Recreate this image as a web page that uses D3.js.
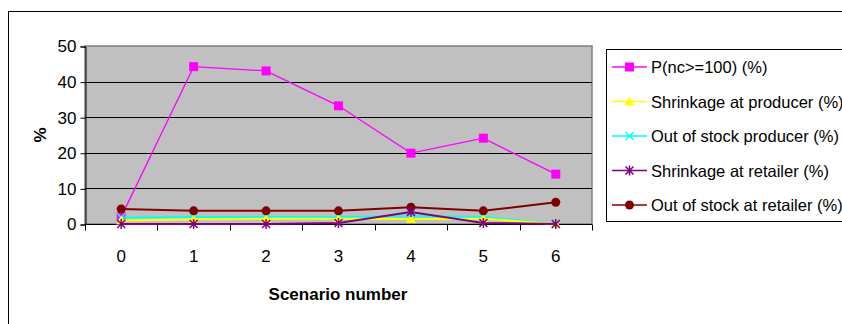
<!DOCTYPE html>
<html>
<head>
<meta charset="utf-8">
<script src="https://cdn.jsdelivr.net/npm/d3@7"></script>
<style>
  html, body { margin: 0; padding: 0; background: #fff; }
  svg { display: block; font-family: "Liberation Sans", Arial, sans-serif; }
</style>
</head>
<body>
<svg id="chart" width="842" height="324"></svg>
<script>
// Scenario numbers along the x axis
const scenarios = [0, 1, 2, 3, 4, 5, 6];
const yTicks = [0, 10, 20, 30, 40, 50];

// Series values (%) per scenario
const pNc100          = [2.0, 44.2, 43.0, 33.2, 19.9, 24.1, 14.0];
const shrinkProducer  = [1.0, 1.3, 1.5, 1.5, 1.4, 1.5, 0.0];
const outStockProducer = [1.8, 2.0, 2.0, 2.0, 2.2, 2.0, 0.0];
const shrinkRetailer  = [0.0, 0.0, 0.0, 0.3, 3.4, 0.3, 0.0];
const outStockRetailer = [4.2, 3.7, 3.7, 3.7, 4.7, 3.7, 6.1];

const seriesNames = [
  "P(nc>=100) (%)",
  "Shrinkage at producer (%)",
  "Out of stock producer (%)",
  "Shrinkage at retailer (%)",
  "Out of stock at retailer (%)"
];
const seriesValues = [pNc100, shrinkProducer, outStockProducer, shrinkRetailer, outStockRetailer];
const seriesColors = ["#FF00FF", "#FFFF00", "#00FFFF", "#800080", "#800000"];
const seriesMarkers = ["square", "triangle", "cross", "star", "circle"];

// Draw order: later series on top
const drawOrder = [0, 2, 1, 4, 3];

const FS = 17;
const LEGEND_FS = 16.5;
const svg = d3.select("#chart");

// Outer chart frame
svg.append("rect").attr("x", 8.5).attr("y", 11.5).attr("width", 840).attr("height", 320)
  .attr("fill", "#fff").attr("stroke", "#000").attr("stroke-width", 1);

const plot = { left: 85, right: 592, top: 46, bottom: 224 };

const x = d3.scaleBand().domain(scenarios).range([plot.left, plot.right]).padding(0);
const y = d3.scaleLinear().domain([0, 50]).range([plot.bottom, plot.top]);
const cx = d => x(d) + x.bandwidth() / 2;

// Plot background
svg.append("rect")
  .attr("x", plot.left).attr("y", plot.top)
  .attr("width", plot.right - plot.left).attr("height", plot.bottom - plot.top)
  .attr("fill", "#C0C0C0").attr("stroke", "#808080").attr("stroke-width", 1.5);

// Horizontal gridlines
svg.append("g").selectAll("line").data(yTicks.filter(t => t > 0 && t < 50)).join("line")
  .attr("x1", plot.left).attr("x2", plot.right)
  .attr("y1", d => Math.round(y(d)) + 0.5).attr("y2", d => Math.round(y(d)) + 0.5)
  .attr("stroke", "#000").attr("stroke-width", 1);

// Y axis
const yAxis = svg.append("g").attr("transform", `translate(${plot.left + 0.5},0.5)`)
  .call(d3.axisLeft(y).tickValues(yTicks).tickSize(5).tickPadding(4));
yAxis.select(".domain").attr("stroke", "#000");
yAxis.selectAll(".tick line").attr("stroke", "#000");
yAxis.selectAll("text").attr("font-size", FS).attr("fill", "#000")
  .attr("font-family", "Liberation Sans, Arial, sans-serif");

// X axis: ticks at category boundaries, labels at centers
const xg = svg.append("g").attr("transform", `translate(0,${plot.bottom + 0.5})`);
xg.append("line").attr("x1", plot.left).attr("x2", plot.right).attr("stroke", "#000");
const boundaries = scenarios.map(s => x(s)).concat([plot.right]);
xg.selectAll("line.tick").data(boundaries).join("line").attr("class", "tick")
  .attr("x1", d => Math.round(d) + 0.5).attr("x2", d => Math.round(d) + 0.5)
  .attr("y1", 0).attr("y2", 6).attr("stroke", "#000");
xg.selectAll("text").data(scenarios).join("text")
  .attr("x", d => cx(d)).attr("y", 37.5)
  .attr("text-anchor", "middle").attr("font-size", FS).attr("fill", "#000")
  .text(d => d);

// Axis titles
svg.append("text").attr("x", 338).attr("y", 300).attr("text-anchor", "middle")
  .attr("font-size", FS).attr("font-weight", "bold").text("Scenario number");
svg.append("text").attr("transform", "translate(46,135) rotate(-90)")
  .attr("text-anchor", "middle").attr("font-size", FS).attr("font-weight", "bold").text("%");

// Marker drawing
function drawMarker(g, type, color, px, py) {
  if (type === "square") {
    g.append("rect").attr("x", px - 4.5).attr("y", py - 4.5).attr("width", 9).attr("height", 9)
      .attr("fill", color);
  } else if (type === "triangle") {
    g.append("path").attr("d", `M${px},${py - 5}L${px + 5},${py + 4}L${px - 5},${py + 4}Z`)
      .attr("fill", color);
  } else if (type === "cross") {
    g.append("path").attr("d", `M${px - 4},${py - 4}L${px + 4},${py + 4}M${px - 4},${py + 4}L${px + 4},${py - 4}`)
      .attr("stroke", color).attr("stroke-width", 1.5).attr("fill", "none");
  } else if (type === "star") {
    g.append("path").attr("d", `M${px - 4},${py - 4}L${px + 4},${py + 4}M${px - 4},${py + 4}L${px + 4},${py - 4}M${px},${py - 5}L${px},${py + 5}`)
      .attr("stroke", color).attr("stroke-width", 1.5).attr("fill", "none");
  } else if (type === "circle") {
    g.append("circle").attr("cx", px).attr("cy", py).attr("r", 4.5).attr("fill", color);
  }
}

const line = d3.line().x((d, i) => cx(scenarios[i])).y(d => y(d));

drawOrder.forEach(k => {
  const g = svg.append("g");
  g.append("path").datum(seriesValues[k]).attr("d", line)
    .attr("fill", "none").attr("stroke", seriesColors[k]).attr("stroke-width", k === 0 ? 1.3 : 2);
  seriesValues[k].forEach((v, i) => drawMarker(g, seriesMarkers[k], seriesColors[k], cx(scenarios[i]), y(v)));
});

// Legend (the box runs past the right edge of the drawing)
const legend = svg.append("g");
legend.append("rect").attr("x", 606.5).attr("y", 49.5).attr("width", 250).attr("height", 172)
  .attr("fill", "#fff").attr("stroke", "#000").attr("stroke-width", 1);
seriesNames.forEach((name, k) => {
  const ly = 67 + k * 34.5;
  const g = legend.append("g");
  g.append("line").attr("x1", 612).attr("x2", 647).attr("y1", ly).attr("y2", ly)
    .attr("stroke", seriesColors[k]).attr("stroke-width", 1.5);
  drawMarker(g, seriesMarkers[k], seriesColors[k], 629.5, ly);
  g.append("text").attr("x", 651).attr("y", ly + 6).attr("font-size", LEGEND_FS).attr("fill", "#000").text(name);
});
</script>
</body>
</html>
